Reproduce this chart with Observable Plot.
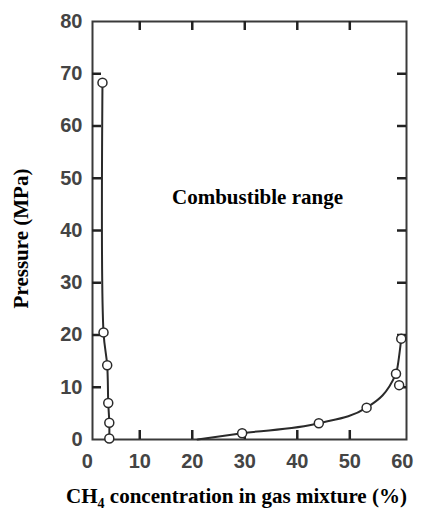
<!DOCTYPE html>
<html>
<head>
<meta charset="utf-8">
<script src="https://cdn.jsdelivr.net/npm/d3@7"></script>
<script src="https://cdn.jsdelivr.net/npm/@observablehq/plot@0.6"></script>
<style>
  html, body { margin: 0; padding: 0; background: #fff; }
  #chart svg { display: block; }
</style>
</head>
<body>
<div id="chart"></div>
<script>
// Tick values
const xTicks = [0, 10, 20, 30, 40, 50, 60];
const yTicks = [0, 10, 20, 30, 40, 50, 60, 70, 80];
const xInnerTicks = [10, 20, 30, 40, 50];
const yInnerTicks = [10, 20, 30, 40, 50, 60, 70];

// Lower flammability branch (measured points)
const lowX = [2.9, 3.1, 3.8, 4.0, 4.2, 4.2];
const lowY = [68.3, 20.5, 14.2, 7.0, 3.2, 0.2];

// Upper flammability branch (measured points)
const upX = [29.5, 44.1, 53.2, 58.8, 59.4, 59.8];
const upY = [1.2, 3.1, 6.1, 12.6, 10.4, 19.3];

// Upper branch fitted curve
const upCurveX = [21, 29.5, 44.1, 53.2, 58.8, 59.8];
const upCurveY = [0, 1.2, 3.1, 6.1, 12.6, 19.3];

const regionLabel = ["Combustible range"];
const xTitle = "CH4 concentration in gas mixture (%)";
const yTitle = "Pressure (MPa)";

const low = lowX.map((x, i) => ({x, y: lowY[i]}));
const up = upX.map((x, i) => ({x, y: upY[i]}));
const upCurve = upCurveX.map((x, i) => ({x, y: upCurveY[i]}));

const W = 432, H = 518, ML = 92, MT = 21, MR = 26, MB = 79;
const xDomain = [1, 60.8], yDomain = [0, 80];
const frameW = W - ML - MR, frameH = H - MT - MB;
const tickLen = 9; // px
const xTickLen = tickLen * (xDomain[1] - xDomain[0]) / frameW;
const yTickLen = tickLen * (yDomain[1] - yDomain[0]) / frameH;
const ink = "#2a2a2a";
const tickColor = "#222";
const sans = "'Liberation Sans', Arial, sans-serif";

const chart = Plot.plot({
  width: W,
  height: H,
  marginLeft: ML,
  marginTop: MT,
  marginRight: MR,
  marginBottom: MB,
  style: {fontFamily: "'Liberation Serif', 'Times New Roman', serif", background: "#fff"},
  x: {domain: xDomain},
  y: {domain: yDomain},
  marks: [
    // tick labels
    Plot.axisX(xTicks, {anchor: "bottom", tickSize: 0, tickPadding: 14, fill: "#444", fontSize: 20, fontWeight: "bold", fontFamily: sans, label: null}),
    Plot.axisY(yTicks, {anchor: "left", tickSize: 0, tickPadding: 10, fill: "#444", fontSize: 20, fontWeight: "bold", fontFamily: sans, label: null}),
    Plot.frame({stroke: "#3a3a3a", strokeWidth: 2}),
    // inward ticks
    Plot.ruleX(xInnerTicks, {x: d => d, y1: yDomain[0], y2: yDomain[0] + yTickLen, stroke: tickColor, strokeWidth: 2.5}),
    Plot.ruleX(xInnerTicks, {x: d => d, y1: yDomain[1], y2: yDomain[1] - yTickLen, stroke: tickColor, strokeWidth: 2.5}),
    Plot.ruleY(yInnerTicks, {y: d => d, x1: xDomain[0], x2: xDomain[0] + xTickLen, stroke: tickColor, strokeWidth: 2.5}),
    Plot.ruleY(yInnerTicks, {y: d => d, x1: xDomain[1], x2: xDomain[1] - xTickLen, stroke: tickColor, strokeWidth: 2.5}),
    // curves
    Plot.line(low, {x: "x", y: "y", curve: "catmull-rom", stroke: ink, strokeWidth: 2}),
    Plot.line(upCurve, {x: "x", y: "y", curve: "monotone-x", stroke: ink, strokeWidth: 2}),
    // markers
    Plot.dot(low, {x: "x", y: "y", r: 4.5, fill: "#fff", stroke: ink, strokeWidth: 1.5}),
    Plot.dot(up, {x: "x", y: "y", r: 4.5, fill: "#fff", stroke: ink, strokeWidth: 1.5}),
    // annotation
    Plot.text(regionLabel, {frameAnchor: "middle", dx: 8, dy: -33, fontSize: 21, fontWeight: "bold", fill: "#000"}),
    // axis titles
    Plot.text([xTitle], {frameAnchor: "bottom", textAnchor: "middle", lineAnchor: "middle", dx: -13, dy: 57, fontSize: 21, fontWeight: "bold", fill: "#000"}),
    Plot.text([yTitle], {frameAnchor: "left", textAnchor: "middle", lineAnchor: "middle", dx: -71, dy: 8, rotate: -90, fontSize: 21, fontWeight: "bold", fill: "#000"})
  ]
});

// subscript the 4 in CH4
d3.select(chart).selectAll("text").each(function () {
  if (this.textContent === xTitle) {
    const el = d3.select(this);
    el.text(null);
    el.append("tspan").text("CH");
    el.append("tspan").attr("font-size", 14).attr("dy", 5).text("4");
    el.append("tspan").attr("dy", -5).text(" concentration in gas mixture (%)");
  }
});

document.getElementById("chart").appendChild(chart);
</script>
</body>
</html>
